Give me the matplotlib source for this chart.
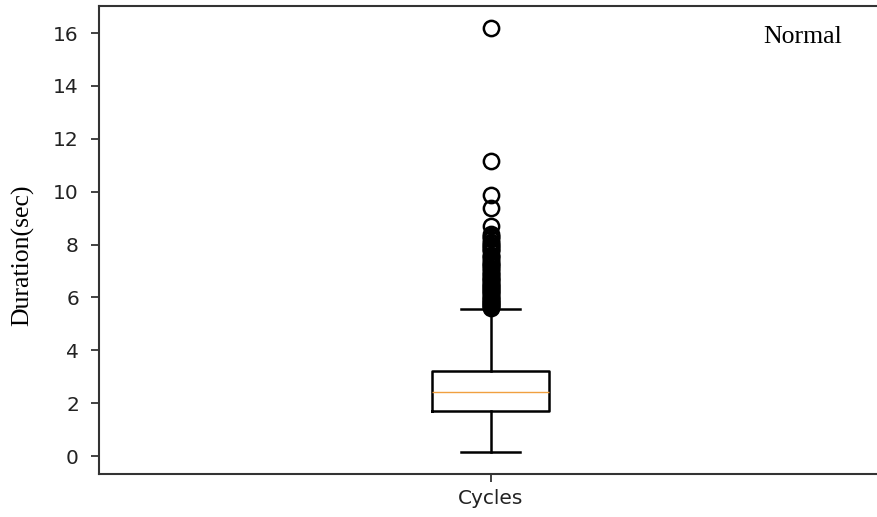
import matplotlib.pyplot as plt

# box statistics (seconds)
label = "Cycles"
whisker_low = 0.15
q1 = 1.70
median = 2.42
q3 = 3.22
whisker_high = 5.58

# outliers: a dense run above the upper whisker plus a few isolated ones
fliers = [
    5.60, 5.63, 5.66, 5.70, 5.73, 5.77, 5.80, 5.84, 5.88, 5.91,
    5.95, 5.99, 6.03, 6.07, 6.11, 6.15, 6.19, 6.23, 6.27, 6.31,
    6.35, 6.39, 6.43, 6.48, 6.52, 6.56, 6.61, 6.65, 6.70, 6.74,
    6.79, 6.84, 6.88, 6.93, 6.98, 7.07, 7.12, 7.17, 7.22, 7.27,
    7.32, 7.36, 7.46, 7.51, 7.56, 7.61, 7.75, 7.80, 7.85, 7.90,
    7.95, 8.00, 8.05, 8.10, 8.22, 8.28, 8.34, 8.40,
    8.70, 9.38, 9.87, 11.16, 16.19,
]

stats = [{
    "label": label,
    "whislo": whisker_low,
    "q1": q1,
    "med": median,
    "q3": q3,
    "whishi": whisker_high,
    "fliers": fliers,
}]

fig = plt.figure(figsize=(8.78, 5.17), dpi=100)
ax = fig.add_axes([0.1128, 0.0832, 0.892, 0.905])

ax.bxp(stats, widths=0.15,
       boxprops=dict(linewidth=1.8, color="black"),
       whiskerprops=dict(linewidth=1.8, color="black"),
       capprops=dict(linewidth=1.8, color="black"),
       medianprops=dict(linewidth=1.0, color="#f0a040"),
       flierprops=dict(marker="o", markersize=11, markeredgewidth=1.8,
                       markerfacecolor="none", markeredgecolor="black"))

ax.set_ylim(-0.68, 17.02)
ax.set_yticks(range(0, 17, 2))
ax.tick_params(labelsize=14.5, length=6, width=1.2, colors="#222222")
ax.tick_params(axis="y", pad=8.5)
ax.tick_params(axis="x", pad=5)
for s in ax.spines.values():
    s.set_linewidth(1.5)
    s.set_color("#333333")

ax.set_ylabel("Duration(sec)", fontsize=18.5, family="Liberation Serif")
ax.yaxis.set_label_coords(-0.083, 0.468)
ax.text(0.898, 0.921, "Normal", transform=ax.transAxes, fontsize=18.5,
        family="Liberation Serif", ha="center", va="baseline")

fig.savefig("out.png", dpi=100)
